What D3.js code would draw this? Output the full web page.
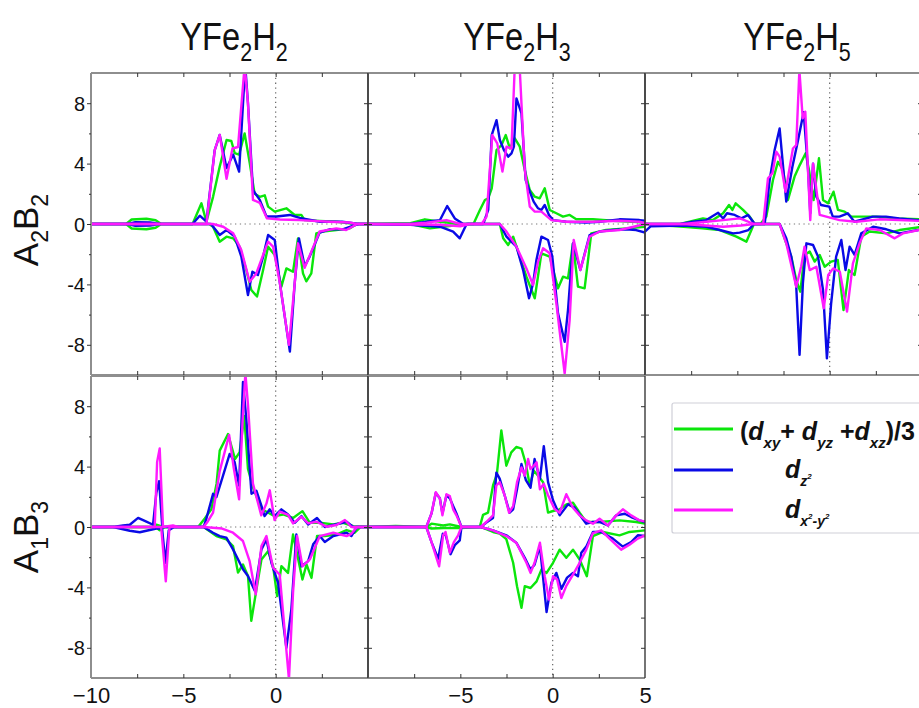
<!DOCTYPE html>
<html><head><meta charset="utf-8">
<script src="https://cdn.jsdelivr.net/npm/d3@7/dist/d3.min.js"></script>
<style>body{margin:0;background:#fff}svg{display:block;font-family:"Liberation Sans",Arial,sans-serif}</style>
</head><body><svg id="c" width="919" height="708"></svg>
<script>
// ---------- data (energy eV, DOS) ----------
const titles = ["YFe2H2","YFe2H3","YFe2H5"];
const titleSubs = [["2","2"],["2","3"],["2","5"]];
const rowLabels = [["A","2","B","2"],["A","1","B","3"]];
const yTickLabels = [-8,-4,0,4,8];
const xTickLabelsCol = [[-10,-5,0],[-5,0,5]];
const seriesNames = ["green","blue","magenta"];

// YFe2H2 A2B2
const p1_g_up=[[-10,0],[-8.1,0],[-7.8,0.3],[-7.0,0.35],[-6.5,0.25],[-6.2,0],[-4.5,0],[-4.02,1.37],[-3.75,0.15],[-3.39,1.8],[-3.03,3.8],[-2.66,5.56],[-2.4,5.5],[-2.22,4.7],[-1.98,4.6],[-1.68,6.0],[-1.4,4.0],[-1.14,2.0],[-0.86,1.8],[-0.59,1.9],[-0.41,1.15],[-0.05,0.82],[0.58,1.04],[1.03,0.6],[1.39,0.6],[1.57,0.26],[2.38,0.2],[3.3,0.15],[4.0,0.04],[4.4,0],[5,0]];
const p1_b_up=[[-10,0],[-8,0],[-7.6,0.12],[-6.8,0.1],[-6.3,0],[-4.5,0],[-4.11,0.55],[-3.75,0.15],[-3.3,4.9],[-3.03,5.9],[-2.66,3.7],[-2.3,4.6],[-1.98,3.47],[-1.65,10.5],[-1.5,8],[-1.23,2.25],[-0.86,1.6],[-0.5,0.5],[0.05,0.5],[0.77,0.6],[1.3,0.4],[2.4,0.15],[3.6,0.15],[4.2,0.05],[4.5,0],[5,0]];
const p1_m_up=[[-10,0],[-3.75,0],[-3.3,4.9],[-3.03,5.9],[-2.66,3.0],[-2.34,5.0],[-2.04,5.1],[-1.68,10.5],[-1.5,8],[-1.23,1.6],[-0.86,1.4],[-0.47,0.37],[0.23,0.3],[1.3,0.26],[2.9,0.15],[4.0,0.1],[4.4,0],[5,0]];
const p1_g_dn=[[-10,0],[-8.1,0],[-7.8,-0.3],[-7.0,-0.35],[-6.5,-0.25],[-6.2,0],[-3.6,0],[-3.39,-0.18],[-3.03,-1.17],[-2.66,-0.84],[-2.3,-0.95],[-1.95,-1.5],[-1.59,-3.05],[-1.32,-4.37],[-1.01,-4.8],[-0.68,-3.05],[-0.41,-1.5],[-0.05,-2.05],[0.31,-4.15],[0.58,-2.94],[0.94,-3.16],[1.21,-0.95],[1.48,-3.27],[1.66,-3.8],[1.93,-3.27],[2.2,-0.62],[2.56,-0.5],[3.28,-0.4],[4.0,-0.29],[4.4,0],[5,0]];
const p1_b_dn=[[-10,0],[-8,0],[-7.6,-0.12],[-6.8,-0.1],[-6.3,0],[-3.5,0],[-3.03,-0.73],[-2.66,-0.4],[-2.22,-0.84],[-1.86,-2.16],[-1.5,-4.7],[-1.26,-3.16],[-0.96,-3.38],[-0.68,-2.16],[-0.41,-0.73],[-0.05,-1.06],[0.23,-3.93],[0.77,-8.45],[1.03,-3.93],[1.26,-0.95],[1.57,-2.8],[1.84,-2.16],[2.38,-0.57],[2.92,-0.35],[3.64,-0.35],[4.2,-0.1],[4.5,0],[5,0]];
const p1_m_dn=[[-10,0],[-3.4,0],[-2.84,-0.18],[-2.3,-0.62],[-1.86,-1.72],[-1.41,-3.82],[-1.05,-3.27],[-0.68,-2.05],[-0.41,-1.17],[-0.14,-1.5],[0.23,-3.93],[0.72,-8.0],[1.03,-3.93],[1.21,-1.28],[1.57,-2.9],[1.93,-1.83],[2.38,-0.5],[3.28,-0.29],[3.82,-0.4],[4.2,-0.15],[4.4,0],[5,0]];
// YFe2H3 A2B2
const p2_b_up=[[-10,0],[-7.7,0],[-6.83,0.15],[-6.1,0.26],[-5.71,1.19],[-5.3,0.37],[-4.84,0],[-3.76,0],[-3.49,0.93],[-3.3,5.89],[-3.04,6.88],[-2.86,5.56],[-2.64,4.9],[-2.41,4.46],[-2.23,4.68],[-2.1,5.12],[-1.96,8.32],[-1.69,7.33],[-1.46,2.91],[-1.24,2.14],[-1.03,1.48],[-0.79,1.04],[-0.61,0.93],[-0.43,1.26],[-0.2,0.6],[0.02,0.26],[0.74,0.15],[1.82,0.09],[2.54,0.15],[3.62,0.31],[4.7,0.26],[5,0.22]];
const p2_m_up=[[-10,0],[-7.7,0],[-6.83,0.09],[-5.75,0.26],[-5.0,0],[-3.85,0],[-3.58,0.49],[-3.27,5.89],[-3.0,5.34],[-2.72,3.47],[-2.5,5.12],[-2.23,5.0],[-2.05,10.5],[-1.78,10.2],[-1.51,3.58],[-1.24,1.15],[-0.97,0.82],[-0.61,0.82],[-0.07,0.26],[0.74,0.15],[2.18,0.15],[3.62,0.22],[4.7,0.15],[5,0.05]];
const p2_g_up=[[-10,0],[-7.7,0.05],[-6.92,0.31],[-6.1,0.15],[-5.0,0],[-4.29,0],[-3.94,0.93],[-3.67,1.59],[-3.49,1.7],[-3.3,2.36],[-3.04,4.9],[-2.77,5.23],[-2.54,5.89],[-2.32,5.01],[-2.05,5.67],[-1.78,5.12],[-1.51,3.58],[-1.24,2.25],[-0.97,1.81],[-0.7,1.7],[-0.43,2.36],[-0.16,0.93],[0.2,0.71],[0.56,0.49],[0.92,0.6],[1.28,0.31],[2.18,0.31],[3.26,0.22],[4.34,0.15],[5,0.09]];
const p2_b_dn=[[-10,0],[-7.7,-0.05],[-6.1,-0.18],[-5.39,-0.5],[-5.03,-0.95],[-4.66,0],[-2.86,0],[-2.5,-0.84],[-1.96,-1.5],[-1.6,-3.05],[-1.28,-4.92],[-1.06,-3.93],[-0.88,-2.38],[-0.61,-0.84],[-0.25,-1.06],[-0.02,-2.16],[0.29,-5.92],[0.65,-7.8],[0.83,-5.7],[1.1,-1.28],[1.5,-3.05],[2.0,-0.73],[2.54,-0.5],[3.26,-0.4],[3.98,-0.35],[4.52,-0.4],[5,-0.57]];
const p2_m_dn=[[-10,0],[-6.1,-0.05],[-5.0,-0.15],[-4.5,0],[-2.86,0],[-2.5,-0.5],[-1.96,-1.5],[-1.42,-2.94],[-1.06,-4.04],[-0.79,-2.49],[-0.52,-1.61],[-0.16,-1.94],[0.2,-5.25],[0.65,-9.9],[0.92,-6.36],[1.14,-1.06],[1.5,-3.05],[2.0,-0.84],[2.54,-0.5],[3.62,-0.4],[4.5,-0.15],[5,0]];
const p2_g_dn=[[-10,0],[-7.7,0],[-6.65,-0.29],[-5.0,-0.05],[-4.5,0],[-2.86,0],[-2.68,-0.95],[-2.41,-1.39],[-2.14,-0.84],[-1.87,-1.83],[-1.42,-3.49],[-0.97,-4.92],[-0.61,-1.94],[-0.16,-2.16],[0.29,-4.26],[0.56,-3.49],[0.83,-3.6],[1.1,-1.28],[1.37,-4.15],[1.73,-4.26],[2.09,-0.62],[2.9,-0.4],[3.98,-0.29],[5,-0.18]];
// YFe2H5 A2B2
const p3_b_up=[[-10,0],[-8.1,0],[-7.4,0.15],[-6.68,0.26],[-6.04,0.75],[-5.77,0.37],[-5.56,0.71],[-5.14,0.6],[-4.78,0.37],[-4.42,0.6],[-4.06,0],[-3.52,0],[-3.25,2.91],[-2.98,4.9],[-2.71,6.33],[-2.35,1.48],[-2.02,3.78],[-1.71,5.56],[-1.41,7.4],[-1.17,3.58],[-1.05,0.71],[-0.9,4.0],[-0.72,1.81],[-0.47,1.26],[-0.02,1.15],[0.17,0.49],[0.53,0.49],[0.98,0.71],[1.34,0.15],[2.33,0.49],[3.05,0.49],[3.77,0.37],[4.8,0.26],[5,0.25]];
const p3_m_up=[[-10,0],[-7.9,0],[-6.68,0.15],[-5.77,0.26],[-4.86,0.37],[-4.1,0],[-3.6,0],[-3.34,3.03],[-3.1,3.36],[-2.89,4.79],[-2.71,4.46],[-2.39,2.14],[-1.99,5.0],[-1.81,5.23],[-1.64,10.2],[-1.46,7.0],[-1.32,7.44],[-1.05,0.26],[-0.9,4.0],[-0.54,0.6],[0.53,0.26],[1.44,0.15],[2.69,0.31],[3.77,0.26],[5,0.2]];
const p3_g_up=[[-10,0],[-8.1,0],[-6.86,0.37],[-6.32,0.26],[-5.77,0.71],[-5.45,1.26],[-5.27,0.93],[-5.09,1.37],[-4.69,0.93],[-4.33,0.49],[-4.06,0],[-3.75,0],[-3.43,0.49],[-3.07,2.91],[-2.8,4.12],[-2.53,3.58],[-2.26,1.59],[-1.9,3.14],[-1.62,3.9],[-1.3,4.68],[-1.12,3.58],[-0.87,1.59],[-0.58,4.35],[-0.36,1.59],[-0.09,1.37],[0.21,2.14],[0.45,0.93],[0.81,0.82],[1.17,0.49],[1.62,0.49],[2.53,0.49],[3.61,0.37],[5,0.31]];
const p3_b_dn=[[-10,-0.5],[-9.7,-0.15],[-7.9,-0.1],[-6.68,-0.18],[-5.95,-0.4],[-5.23,-0.62],[-4.87,-0.57],[-4.4,-0.4],[-4.1,0],[-2.71,0],[-2.35,-0.95],[-2.08,-2.16],[-1.81,-4.15],[-1.63,-8.67],[-1.45,-3.93],[-1.26,-1.28],[-0.9,-1.39],[-0.63,-2.16],[-0.36,-4.37],[-0.15,-8.9],[0.08,-5.25],[0.35,-2.16],[0.63,-1.06],[0.86,-3.05],[1.08,-1.5],[1.35,-2.05],[1.71,-0.62],[2.35,-0.18],[3.07,-0.35],[3.79,-0.62],[4.8,-0.4],[5,-0.35]];
const p3_m_dn=[[-10,0],[-7.9,0],[-5.77,-0.18],[-4.8,-0.1],[-4.1,0],[-2.71,0],[-2.35,-1.28],[-2.08,-2.71],[-1.81,-4.15],[-1.54,-2.8],[-1.36,-1.5],[-1.08,-3.05],[-0.72,-2.83],[-0.32,-5.59],[-0.08,-3.38],[0.19,-2.94],[0.55,-3.16],[0.94,-5.8],[1.26,-2.6],[1.62,-1.28],[1.98,-0.29],[2.71,-0.4],[3.52,-0.95],[3.97,-0.62],[5,-0.35]];
const p3_g_dn=[[-10,0],[-7.9,-0.18],[-6.9,-0.29],[-5.95,-0.4],[-5.05,-0.84],[-4.51,-1.17],[-4.1,0],[-2.71,0],[-2.35,-1.28],[-2.08,-2.16],[-1.81,-3.71],[-1.59,-4.48],[-1.36,-2.05],[-1.08,-1.83],[-0.81,-2.49],[-0.54,-2.05],[-0.27,-2.83],[0.08,-2.49],[0.44,-2.38],[0.75,-5.7],[1.04,-3.05],[1.35,-3.38],[1.71,-0.84],[2.17,-0.5],[3.07,-0.62],[3.79,-0.4],[5,-0.18]];
// YFe2H2 A1B3
const q1_m_up=[[-10,0],[-6.55,0],[-6.42,4.3],[-6.28,5.2],[-6.1,0],[-5.56,0.1],[-5.3,0],[-3.9,0],[-3.66,0.4],[-3.39,0.95],[-3.03,3.7],[-2.52,6.1],[-2.27,3.9],[-1.98,1.83],[-1.8,6.8],[-1.64,10.2],[-1.5,8.1],[-1.23,2.87],[-0.78,0.77],[-0.5,1.55],[-0.32,2.43],[-0.06,0.46],[0.22,1.02],[0.67,0.8],[0.94,0.24],[1.4,0.68],[1.76,0.24],[2.21,0.35],[2.75,0.02],[3.29,0.13],[3.75,0.46],[4.1,0],[5,0]];
const q1_b_up=[[-10,0],[-8.8,0],[-8.26,0.1],[-7.9,0.15],[-7.45,0.6],[-7.0,0.35],[-6.64,0.15],[-6.46,2.27],[-6.31,3.04],[-6.14,0],[-3.9,0],[-3.75,0.57],[-3.39,2.2],[-3.21,1.98],[-2.85,3.4],[-2.49,4.84],[-2.22,4.29],[-1.98,2.75],[-1.77,9.6],[-1.59,7.16],[-1.31,2.2],[-1.04,2.4],[-0.77,1.4],[-0.6,0.72],[-0.32,1.17],[-0.06,0.72],[0.31,1.17],[0.67,0.83],[1.03,0.28],[1.4,0.72],[1.76,0.17],[2.24,0.6],[2.66,0],[3.29,0.18],[3.84,0.35],[4.2,0],[5,0]];
const q1_g_up=[[-10,0],[-6.7,0],[-6.46,0.15],[-6.1,0],[-4.2,0],[-3.84,0.57],[-3.48,1.17],[-3.2,2.87],[-3.03,5.06],[-2.58,6.16],[-2.2,4.5],[-1.95,4.95],[-1.7,7.35],[-1.5,3.84],[-1.23,2.64],[-0.78,1.2],[-0.4,0.94],[-0.06,0.72],[0.4,0.83],[0.94,0.6],[1.45,1.05],[1.85,0.28],[2.39,0.28],[3.12,0.17],[3.66,0.28],[4.2,0.05],[5,0]];
const q1_b_dn=[[-10,0],[-8.8,0],[-7.9,-0.25],[-7.36,-0.35],[-6.46,-0.1],[-6.15,-0.1],[-5.97,-2.37],[-5.79,-0.22],[-5.5,0],[-3.9,0],[-3.39,-0.38],[-3.03,-0.6],[-2.67,-0.7],[-2.31,-1.48],[-1.77,-2.8],[-1.5,-3.24],[-1.13,-4.23],[-0.77,-1.48],[-0.5,-0.82],[-0.23,-2.37],[0.13,-3.7],[0.58,-8.0],[0.85,-5.45],[1.12,-0.5],[1.4,-2.6],[1.76,-2.26],[2.03,-1.15],[2.39,-0.6],[2.66,-1.0],[3.12,-0.6],[3.84,-0.38],[4.1,-0.6],[4.4,0],[5,0]];
const q1_m_dn=[[-10,0],[-6.2,0],[-5.95,-3.6],[-5.75,0],[-3.9,0],[-2.9,-0.1],[-2.31,-0.38],[-1.77,-0.93],[-1.41,-2.26],[-1.08,-4.46],[-0.77,-1.26],[-0.5,-0.6],[-0.14,-2.7],[0.22,-3.15],[0.72,-10.1],[0.94,-4.35],[1.16,-0.6],[1.45,-2.6],[1.85,-2.15],[2.39,-0.6],[3.12,-0.38],[3.84,-0.6],[4.1,-0.45],[4.4,0],[5,0]];
const q1_g_dn=[[-10,0],[-6.5,0],[-6.28,-0.22],[-6.0,0],[-3.9,0],[-3.21,-0.6],[-2.67,-0.82],[-2.31,-1.26],[-2.04,-3.02],[-1.77,-2.48],[-1.5,-3.24],[-1.32,-6.22],[-1.04,-4.13],[-0.77,-2.15],[-0.41,-1.6],[-0.14,-2.59],[0.08,-4.57],[0.31,-2.59],[0.67,-3.04],[0.94,-0.5],[1.45,-3.48],[1.67,-2.48],[1.94,-3.37],[2.24,-0.6],[2.66,-0.6],[3.29,-0.5],[3.84,-0.2],[4.28,-0.38],[4.6,0],[5,0]];
// YFe2H3 A1B3
const q2_m_up=[[-10,0],[-6.84,0],[-6.56,0.9],[-6.33,2.3],[-6.11,1.9],[-5.97,0.77],[-5.75,2.17],[-5.57,2.05],[-5.39,1.17],[-5.21,0.77],[-4.94,0],[-3.9,0],[-3.59,0.33],[-3.23,0.77],[-3.05,2.75],[-2.87,2.97],[-2.6,2.1],[-2.36,0.95],[-2.14,1.39],[-1.93,2.97],[-1.69,3.94],[-1.51,3.4],[-1.33,4.5],[-1.2,3.84],[-1.02,4.06],[-0.87,4.28],[-0.69,2.5],[-0.48,2.86],[-0.25,2.1],[0.11,1.17],[0.38,0.95],[0.74,2.17],[1.1,1.28],[1.46,0.77],[1.82,0.44],[2.18,0.22],[2.54,0.55],[2.99,0.1],[3.44,0.77],[3.8,1.17],[4.25,0.77],[4.7,0.44],[5,0.37]];
const q2_b_up=[[-10,0],[-6.84,0],[-6.56,0.9],[-6.33,2.25],[-6.11,1.9],[-5.97,0.9],[-5.75,2.1],[-5.57,1.9],[-5.39,1.4],[-5.21,0.9],[-4.94,0],[-3.9,0],[-3.59,0.3],[-3.23,0.6],[-3.05,3.6],[-2.87,3.2],[-2.6,2.1],[-2.33,0.95],[-2.14,1.17],[-1.93,2.5],[-1.69,4.17],[-1.45,3.1],[-1.2,2.6],[-0.98,4.5],[-0.69,3.18],[-0.48,5.35],[-0.25,2.97],[0.02,1.77],[0.38,0.77],[0.83,1.5],[1.19,1.28],[1.55,0.66],[1.82,0.22],[2.18,0.33],[2.54,0.33],[2.99,0.1],[3.44,0.77],[3.9,0.88],[4.25,0.66],[4.7,0.44],[5,0.33]];
const q2_g_up=[[-10,0],[-8.5,0.07],[-6.84,0],[-6.56,0.22],[-5.93,0.1],[-5.57,0.17],[-4.94,0],[-3.95,0],[-3.77,0.8],[-3.5,0.95],[-3.23,2.75],[-3.02,3.5],[-2.78,6.4],[-2.51,4.06],[-2.24,4.94],[-1.97,5.3],[-1.69,5.19],[-1.45,4.17],[-1.24,2.75],[-1.02,3.73],[-0.79,3.4],[-0.52,2.97],[-0.25,0.95],[0.02,1.06],[0.38,1.17],[0.74,1.5],[1.1,1.61],[1.46,0.95],[1.82,0.33],[2.54,0.33],[3.62,0.44],[4.52,0.33],[5,0.22]];
const q2_m_dn=[[-10,0],[-6.84,0],[-6.56,-1.0],[-6.15,-2.6],[-5.93,-0.55],[-5.8,-0.33],[-5.57,-1.7],[-5.35,-1.0],[-5.12,-0.55],[-4.94,0],[-3.9,0],[-3.23,-0.22],[-2.51,-0.6],[-1.97,-1.04],[-1.6,-1.93],[-1.42,-2.37],[-1.2,-3.04],[-0.98,-2.37],[-0.69,-1.04],[-0.43,-3.26],[-0.2,-4.8],[0.02,-3.26],[0.24,-3.48],[0.47,-4.7],[0.74,-3.9],[1.1,-3.15],[1.46,-2.37],[1.82,-1.5],[2.18,-0.4],[2.63,-0.22],[3.08,-0.77],[3.71,-1.5],[4.16,-1.17],[4.61,-0.77],[5,-0.55]];
const q2_b_dn=[[-10,0],[-6.84,0],[-6.56,-1.0],[-6.2,-2.1],[-5.95,-0.45],[-5.8,-0.5],[-5.53,-1.8],[-5.3,-1.2],[-5.03,-0.88],[-4.94,0],[-3.9,0],[-3.23,-0.22],[-2.51,-0.55],[-1.97,-1.04],[-1.51,-2.04],[-1.2,-2.82],[-0.98,-2.5],[-0.69,-1.26],[-0.33,-5.63],[-0.07,-3.7],[0.2,-3.04],[0.47,-4.1],[0.78,-3.35],[1.1,-3.04],[1.37,-3.26],[1.55,-1.7],[1.82,-1.3],[2.18,-0.33],[2.63,-0.33],[3.26,-0.77],[3.8,-1.3],[4.25,-1.0],[4.61,-0.55],[5,-0.6]];
const q2_g_dn=[[-10,0],[-6.84,0],[-6.56,-0.1],[-5.9,-0.07],[-5.0,-0.07],[-3.9,0],[-3.23,-0.33],[-2.87,-0.44],[-2.51,-0.8],[-2.14,-2.37],[-1.93,-3.92],[-1.69,-5.35],[-1.51,-3.92],[-1.2,-4.04],[-0.87,-3.6],[-0.61,-2.82],[-0.33,-3.04],[0.02,-2.37],[0.38,-1.5],[0.74,-2.04],[1.1,-1.5],[1.46,-2.15],[1.85,-3.26],[2.18,-0.6],[2.72,-0.33],[3.62,-0.55],[4.16,-0.33],[5,-0.22]];

const colors = {green:"#0be60b", blue:"#0a0ae6", magenta:"#ff19ff"};

const panels = [
  {row:0,col:0,s:{green:[p1_g_up,p1_g_dn],blue:[p1_b_up,p1_b_dn],magenta:[p1_m_up,p1_m_dn]}},
  {row:0,col:1,s:{green:[p2_g_up,p2_g_dn],blue:[p2_b_up,p2_b_dn],magenta:[p2_m_up,p2_m_dn]}},
  {row:0,col:2,s:{green:[p3_g_up,p3_g_dn],blue:[p3_b_up,p3_b_dn],magenta:[p3_m_up,p3_m_dn]}},
  {row:1,col:0,s:{green:[q1_g_up,q1_g_dn],blue:[q1_b_up,q1_b_dn],magenta:[q1_m_up,q1_m_dn]}},
  {row:1,col:1,s:{green:[q2_g_up,q2_g_dn],blue:[q2_b_up,q2_b_dn],magenta:[q2_m_up,q2_m_dn]}}
];

// ---------- layout ----------
const L0 = 91, PW = 277, T0 = 73, PH = 302, ROWGAP = 1;
const svg = d3.select("#c");
const defs = svg.append("defs");

panels.forEach((p,i)=>{
  const x0 = L0 + p.col*PW, y0 = T0 + p.row*(PH+ROWGAP);
  const x = d3.scaleLinear().domain([-10,5]).range([x0, x0+PW]);
  const y = d3.scaleLinear().domain([-10,10]).range([y0+PH, y0]);
  defs.append("clipPath").attr("id","cl"+i).append("rect")
    .attr("x",x0).attr("y",y0).attr("width",PW).attr("height",PH);
  const g = svg.append("g");
  // zero lines (dotted)
  g.append("line").attr("x1",x(0)).attr("x2",x(0)).attr("y1",y(10)).attr("y2",y(-10))
    .attr("stroke","#666").attr("stroke-width",1.2).attr("stroke-dasharray","1.3,3.5");
  g.append("line").attr("x1",x(-10)).attr("x2",x(5)).attr("y1",y(0)).attr("y2",y(0))
    .attr("stroke","#777").attr("stroke-width",1.2).attr("stroke-dasharray","1.3,3.5");
  const line = d3.line().x(d=>x(d[0])).y(d=>y(d[1]));
  const lg = g.append("g").attr("clip-path","url(#cl"+i+")");
  seriesNames.forEach(name=>{
    p.s[name].forEach(arr=>{
      lg.append("path").datum(arr).attr("d",line).attr("fill","none")
        .attr("stroke",colors[name]).attr("stroke-width",2.4).attr("stroke-linejoin","round");
    });
  });
  // frame
  const hcol="#8e8e8e", vcol="#3a3a3a";
  g.append("line").attr("x1",x0).attr("x2",x0+PW).attr("y1",y0).attr("y2",y0).attr("stroke",hcol).attr("stroke-width",2);
  g.append("line").attr("x1",x0).attr("x2",x0+PW).attr("y1",y0+PH).attr("y2",y0+PH).attr("stroke",hcol).attr("stroke-width",2);
  g.append("line").attr("x1",x0).attr("x2",x0).attr("y1",y0).attr("y2",y0+PH)
    .attr("stroke",p.col===0?hcol:vcol).attr("stroke-width",p.col===0?2:1.4);
  g.append("line").attr("x1",x0+PW).attr("x2",x0+PW).attr("y1",y0).attr("y2",y0+PH).attr("stroke",vcol).attr("stroke-width",1.4);

  const xt = [-7.5,-5,-2.5,0,2.5];
  const yt = [-8,-6,-4,-2,0,2,4,6,8];
  const styleAxis = a => { a.select(".domain").remove(); a.selectAll("line").attr("stroke","#333"); };
  // top ticks (inward)
  g.append("g").attr("transform",`translate(0,${y0})`)
    .call(d3.axisBottom(x).tickValues(xt).tickSize(4).tickFormat("")).call(styleAxis);
  // bottom ticks (inward)
  g.append("g").attr("transform",`translate(0,${y0+PH})`)
    .call(d3.axisTop(x).tickValues(xt).tickSize(4).tickFormat("")).call(styleAxis);
  // right edge ticks (inward)
  g.append("g").attr("transform",`translate(${x0+PW},0)`)
    .call(d3.axisLeft(y).tickValues(yt).tickSize(4).tickFormat("")).call(styleAxis);
  if(p.col===0){
    const ax = g.append("g").attr("transform",`translate(${x0},0)`)
      .call(d3.axisLeft(y).tickValues(yt).tickSize(4).tickPadding(2)
        .tickFormat(d=>yTickLabels.includes(d)?d:""));
    ax.call(styleAxis);
    ax.selectAll(".tick").filter(d=>!yTickLabels.includes(d)).select("line").attr("x2",-2);
    ax.selectAll("text").attr("font-size",20).attr("fill","#111")
      .attr("font-family","'Liberation Sans',Arial,sans-serif").attr("dy","0.35em");
  } else {
    g.append("g").attr("transform",`translate(${x0},0)`)
      .call(d3.axisRight(y).tickValues(yt).tickSize(4).tickFormat("")).call(styleAxis);
  }
  if(p.row===1){
    const bx = g.append("g").attr("transform",`translate(0,${y0+PH})`)
      .call(d3.axisBottom(x).tickValues(xTickLabelsCol[p.col]).tickSize(0).tickPadding(7));
    bx.select(".domain").remove();
    bx.selectAll("text").attr("font-size",22).attr("fill","#111")
      .attr("font-family","'Liberation Sans',Arial,sans-serif").attr("dy","0.8em");
  }
});

// column titles
const titleX = [234, 517, 797];
titles.forEach((t,i)=>{
  const tx = svg.append("text").attr("transform",`translate(${titleX[i]},50) scale(0.86,1)`)
    .attr("text-anchor","middle").attr("font-size",38).attr("fill","#111");
  tx.append("tspan").text("YFe");
  tx.append("tspan").text(titleSubs[i][0]).attr("font-size",25).attr("dy",11);
  tx.append("tspan").text("H").attr("dy",-11);
  tx.append("tspan").text(titleSubs[i][1]).attr("font-size",25).attr("dy",11);
});

// row labels
[230, 537].forEach((cy,r)=>{
  const lab = rowLabels[r];
  const tx = svg.append("text").attr("transform",`translate(38,${cy}) rotate(-90)`)
    .attr("text-anchor","middle").attr("font-size",35).attr("fill","#111");
  tx.append("tspan").text(lab[0]);
  tx.append("tspan").text(lab[1]).attr("font-size",23).attr("dy",10);
  tx.append("tspan").text(lab[2]).attr("dy",-10);
  tx.append("tspan").text(lab[3]).attr("font-size",23).attr("dy",10);
});

// legend
const lgd = svg.append("g");
lgd.append("rect").attr("x",672).attr("y",403).attr("width",260).attr("height",130)
  .attr("fill","#fff").attr("stroke","#cfcfd8").attr("stroke-width",1.2).attr("rx",2);
const legRows = [
  {name:"green", y:429},
  {name:"blue", y:470},
  {name:"magenta", y:510}
];
legRows.forEach(r=>{
  lgd.append("line").attr("x1",674).attr("x2",733).attr("y1",r.y).attr("y2",r.y)
    .attr("stroke",colors[r.name]).attr("stroke-width",3);
});
const t1 = lgd.append("text").attr("x",740).attr("y",440).attr("font-size",25).attr("font-weight","bold").attr("fill","#111");
const sub = (t,s)=>t.append("tspan").text(s).attr("font-size",15).attr("font-style","italic").attr("dy",8);
t1.append("tspan").text("(");
t1.append("tspan").text("d").attr("font-style","italic");
sub(t1,"xy");
t1.append("tspan").text("+ ").attr("dy",-8);
t1.append("tspan").text("d").attr("font-style","italic");
sub(t1,"yz");
t1.append("tspan").text(" +").attr("dy",-8);
t1.append("tspan").text("d").attr("font-style","italic");
sub(t1,"xz");
t1.append("tspan").text(")/3").attr("dy",-8);

const t2 = lgd.append("text").attr("x",785).attr("y",478).attr("font-size",25).attr("font-weight","bold").attr("font-style","italic").attr("fill","#111");
t2.append("tspan").text("d");
t2.append("tspan").text("z").attr("font-size",14).attr("dy",8);
t2.append("tspan").text("2").attr("font-size",8).attr("dy",-7);

const t3 = lgd.append("text").attr("x",785).attr("y",518).attr("font-size",25).attr("font-weight","bold").attr("font-style","italic").attr("fill","#111");
t3.append("tspan").text("d");
t3.append("tspan").text("x").attr("font-size",14).attr("dy",8);
t3.append("tspan").text("2").attr("font-size",8).attr("dy",-7);
t3.append("tspan").text("-y").attr("font-size",14).attr("dy",7);
t3.append("tspan").text("2").attr("font-size",8).attr("dy",-7);
</script></body></html>
